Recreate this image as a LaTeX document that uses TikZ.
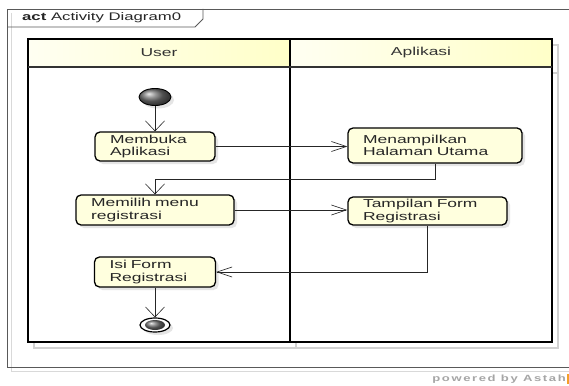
\documentclass[tikz,border=0pt]{standalone}
\usepackage{fontspec}
\setmainfont{Liberation Sans}[FakeStretch=1.52]
\newfontfamily\poweredfont{Liberation Sans}[FakeStretch=1.45,LetterSpace=18]
\usepackage{tikz}
\usetikzlibrary{arrows.meta,shadows,shapes.geometric}

\definecolor{actyellow}{RGB}{255,255,222}
\definecolor{headleft}{RGB}{255,255,242}
\definecolor{headright}{RGB}{255,255,200}
\definecolor{astahorange}{RGB}{245,160,40}

\tikzset{
  activity/.style={draw=black, line width=1.3pt, rounded corners=5pt, fill=actyellow,
    align=left, inner xsep=15pt, inner ysep=2pt, text=black!85,
    font=\fontsize{11.5}{12.5}\selectfont,
    drop shadow={shadow xshift=3pt, shadow yshift=-3pt, fill=black!20}},
  startnode/.style={ellipse, draw=black, line width=0.9pt, inner sep=0pt,
    minimum width=32pt, minimum height=17pt, shading=ball, ball color=black!55,
    drop shadow={shadow xshift=3pt, shadow yshift=-3pt, fill=black!20}},
  endnode/.style={ellipse, draw=black, line width=1.2pt, inner sep=0pt, fill=white,
    minimum width=30pt, minimum height=14pt,
    drop shadow={shadow xshift=3pt, shadow yshift=-3pt, fill=black!20}},
  flowh/.style={draw=black!85, line width=0.6pt, -{Straight Barb[length=15pt,width=10pt]}},
  flowv/.style={draw=black!85, line width=0.6pt, -{Straight Barb[length=10pt,width=19pt]}},
  lanelabel/.style={text=black!80, font=\fontsize{11.5}{12}\selectfont},
}

\begin{document}
\begin{tikzpicture}[x=1pt,y=-1pt]
  \clip (0,0) rectangle (569,385);
  \fill[white] (0,0) rectangle (569,385);

  % frame
  \draw[black!15, line width=1pt] (11,13) -- (11,371) -- (575,371);
  \draw[black!65, line width=0.8pt] (575,9) -- (7,9) -- (7,367) -- (575,367);
  \draw[black!65, line width=0.8pt] (7,27) -- (195,27) -- (203,19) -- (203,9);
  \node[anchor=west, inner sep=0pt, text=black!85, font=\fontsize{11}{12}\selectfont]
    (title) at (22,18) {\textbf{act} Activity Diagram0};

  % swimlanes
  \begin{scope}[shift={(6,6)}, black!18, line width=2pt]
    \draw (28,39) rectangle (552,342);
    \draw (290,39) -- (290,342);
    \draw (28,67) -- (552,67);
  \end{scope}
  \fill[white] (28,67) rectangle (552,342);
  \shade[left color=headleft, right color=headright] (28,39) rectangle (290,67);
  \shade[left color=headleft, right color=headright] (290,39) rectangle (552,67);
  \draw[black, line width=2pt] (28,39) rectangle (552,342);
  \draw[black, line width=2pt] (290,39) -- (290,342);
  \draw[black!80, line width=1.5pt] (28,67) -- (552,67);
  \node[lanelabel] (userlane) at (159,53) {User};
  \node[lanelabel] (applane) at (421,53) {Aplikasi};

  % activities
  \node[startnode] (start) at (155,97) {};
  \node[activity, minimum width=120pt, minimum height=29pt, text width=90pt]
    (membuka) at (155,146.5) {Membuka\\Aplikasi};
  \node[activity, minimum width=174pt, minimum height=35pt, text width=144pt]
    (menampilkan) at (435,145.5) {Menampilkan\\Halaman Utama};
  \node[activity, minimum width=158pt, minimum height=30pt, text width=128pt]
    (memilih) at (155,210) {Memilih menu\\registrasi};
  \node[activity, minimum width=159pt, minimum height=28pt, text width=129pt]
    (tampilan) at (427.5,211) {Tampilan Form\\Registrasi};
  \node[activity, minimum width=121pt, minimum height=30pt, text width=91pt]
    (isi) at (155,272) {Isi Form\\Registrasi};
  \node[endnode] (end) at (155,325) {};
  \shade[ball color=black!55] (end.center) ellipse (10 and 5);

  % flows
  \draw[flowv] (start) -- (membuka);
  \draw[flowh] (membuka.east) -- (membuka.east -| menampilkan.west);
  \draw[flowv] (menampilkan.south) -- ++(0,16) -| (memilih.north);
  \draw[flowh] (memilih.east) -- (memilih.east -| tampilan.west);
  \draw[flowh] (tampilan.south) |- (isi.east);
  \draw[flowv] (isi) -- (end);

  \node[anchor=east, inner sep=0pt, text=black!35, font=\poweredfont\bfseries\fontsize{9}{9}\selectfont]
    (powered) at (566,379) {powered by Astah};
  \fill[astahorange] (566.5,374) rectangle (569,384);
\end{tikzpicture}
\end{document}
